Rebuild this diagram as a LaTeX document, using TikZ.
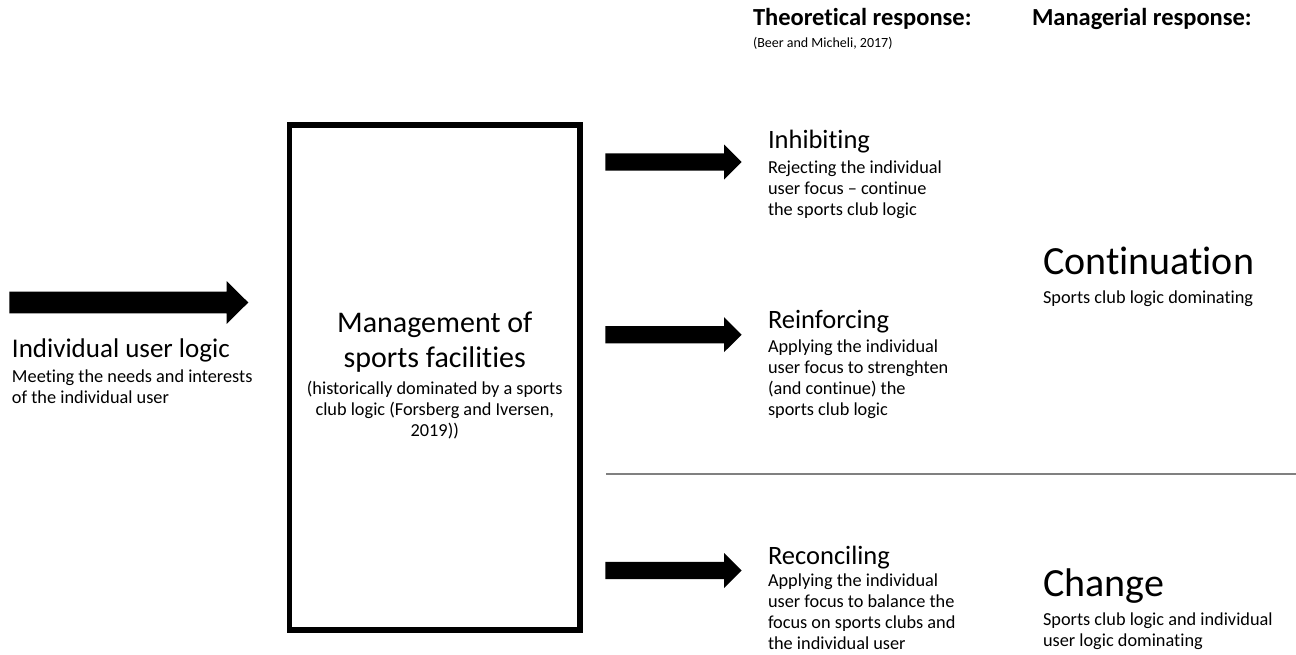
\documentclass[tikz,border=0pt]{standalone}
\usepackage{fontspec}
\setmainfont{Carlito}[Ligatures={TeX,NoCommon}]
\begin{document}
\begin{tikzpicture}[x=1pt,y=-1pt,
  every node/.style={inner sep=0pt, outer sep=0pt},
  lbl/.style={anchor=base west},
  ctr/.style={anchor=base},
  bighead/.style={font=\fontsize{30}{35}\selectfont},
  leadhead/.style={font=\fontsize{27}{32}\selectfont},
  subhead/.style={font=\fontsize{26.5}{32}\selectfont},
  outcome/.style={font=\fontsize{40}{46}\selectfont},
  body/.style={font=\fontsize{18.3}{21}\selectfont},
  colhead/.style={font=\bfseries\fontsize{24.5}{29}\selectfont},
  cite/.style={font=\fontsize{14}{17}\selectfont},
  frame/.style={draw=black, line width=5.5pt},
  divider/.style={draw=black!50, line width=1.3pt},
  pics/fatarrow/.style n args={4}{code={%
    \fill[black] (0,-#2) -- (#1,-#2) -- (#1,-#3) -- ({#1+#4},0)
      -- (#1,#3) -- (#1,#2) -- (0,#2) -- cycle;}}
]
\useasboundingbox (0,0) rectangle (1296,654);

% column headings
\node[lbl, colhead] (theo) at (753,25) {Theoretical response:};
\node[lbl, colhead] (mana) at (1032,25) {Managerial response:};
\node[lbl, cite] (beer) at (753,47) {(Beer and Micheli, 2017)};

% incoming logic
\pic at (9.3,302.5) {fatarrow={217.4}{10.8}{21.3}{21.6}};
\node[lbl, leadhead] (indT) at (12,357) {Individual user logic};
\node[lbl, body] (indS) at (12,382)
  {\begin{tabular}[t]{@{}l@{}}Meeting the needs and interests\\ of the individual user\end{tabular}};

% central box
\node[frame, minimum width=290.5, minimum height=505] (box) at (434.75,377.5) {};
\node[ctr, bighead] (boxT) at (box.center |- 0,332)
  {\begin{tabular}[t]{@{}c@{}}Management of\\ sports facilities\end{tabular}};
\node[ctr, body] (boxS) at (box.center |- 0,394)
  {\begin{tabular}[t]{@{}c@{}}(historically dominated by a sports\\ club logic (Forsberg and Iversen,\\ 2019))\end{tabular}};

% outgoing responses
\pic at (605.3,162) {fatarrow={118.7}{8.7}{17.5}{17.7}};
\pic at (605.3,334.7) {fatarrow={118.7}{8.7}{17.5}{17.7}};
\pic at (605.3,570.5) {fatarrow={118.7}{8.7}{17.5}{17.7}};

\node[lbl, subhead] (inhT) at (768,148) {Inhibiting};
\node[lbl, body] (inhS) at (768,173)
  {\begin{tabular}[t]{@{}l@{}}Rejecting the individual\\ user focus – continue\\ the sports club logic\end{tabular}};

\node[lbl, subhead] (reiT) at (768,328) {Reinforcing};
\node[lbl, body] (reiS) at (768,352)
  {\begin{tabular}[t]{@{}l@{}}Applying the individual\\ user focus to strenghten\\ (and continue) the\\ sports club logic\end{tabular}};

\node[lbl, subhead] (recT) at (768,564) {Reconciling};
\node[lbl, body] (recS) at (768,586)
  {\begin{tabular}[t]{@{}l@{}}Applying the individual\\ user focus to balance the\\ focus on sports clubs and\\ the individual user\end{tabular}};

% managerial outcomes
\node[lbl, outcome] (conT) at (1043,274) {Continuation};
\node[lbl, body] (conS) at (1043,303) {Sports club logic dominating};

\node[lbl, outcome] (chaT) at (1043,596) {Change};
\node[lbl, body] (chaS) at (1043,625)
  {\begin{tabular}[t]{@{}l@{}}Sports club logic and individual\\ user logic dominating\end{tabular}};

% divider between continuation and change
\coordinate (sepL) at (606,474);
\coordinate (sepR) at (1296,474);
\draw[divider] (sepL) -- (sepR);
\end{tikzpicture}
\end{document}
